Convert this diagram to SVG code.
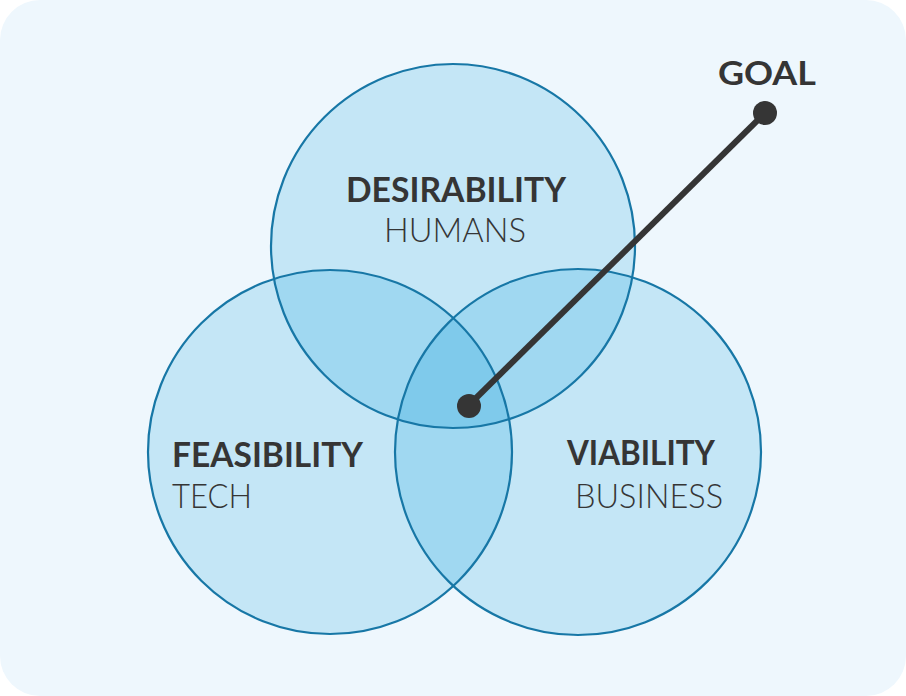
<svg xmlns="http://www.w3.org/2000/svg" width="906" height="696" viewBox="0 0 906 696">
  <defs>
    <clipPath id="clip-top"><circle cx="453" cy="246" r="182"/></clipPath>
    <clipPath id="clip-left"><circle cx="330" cy="452" r="182"/></clipPath>
    <clipPath id="clip-right"><circle cx="578" cy="452" r="183"/></clipPath>
  </defs>
  <style>
    .one { fill: #c4e6f6; }
    .two { fill: #a0d8f1; }
    .three { fill: #7fcaeb; }
    .ring { fill: none; stroke: #1777a6; stroke-width: 2.2; }
    .title { font-family: "Lato", "Liberation Sans", sans-serif; font-weight: 700; fill: #353535; }
    .sub { font-family: "Lato", "Liberation Sans", sans-serif; font-weight: 300; fill: #353535; }
    .pin { fill: #353535; }
  </style>
  <rect x="0" y="0" width="906" height="696" fill="#ffffff"/>
  <rect x="0" y="0" width="906" height="696" rx="40" fill="#eef7fd"/>

  <!-- circle fills and their overlaps -->
  <g id="fills">
    <circle class="one" cx="453" cy="246" r="182"/>
    <circle class="one" cx="330" cy="452" r="182"/>
    <circle class="one" cx="578" cy="452" r="183"/>
    <g clip-path="url(#clip-top)">
      <circle class="two" cx="330" cy="452" r="182"/>
      <circle class="two" cx="578" cy="452" r="183"/>
    </g>
    <g clip-path="url(#clip-left)">
      <circle class="two" cx="578" cy="452" r="183"/>
    </g>
    <g clip-path="url(#clip-top)">
      <g clip-path="url(#clip-left)">
        <circle class="three" cx="578" cy="452" r="183"/>
      </g>
    </g>
  </g>

  <g id="desirability">
    <circle class="ring" cx="453" cy="246" r="182"/>
    <text class="title" x="456" y="202" font-size="35" text-anchor="middle" textLength="220" lengthAdjust="spacingAndGlyphs">DESIRABILITY</text>
    <text class="sub" x="455" y="242" font-size="33" text-anchor="middle" textLength="142" lengthAdjust="spacingAndGlyphs">HUMANS</text>
  </g>
  <g id="feasibility">
    <circle class="ring" cx="330" cy="452" r="182"/>
    <text class="title" x="172" y="467" font-size="35" textLength="191" lengthAdjust="spacingAndGlyphs">FEASIBILITY</text>
    <text class="sub" x="172" y="508" font-size="33" textLength="80" lengthAdjust="spacingAndGlyphs">TECH</text>
  </g>
  <g id="viability">
    <circle class="ring" cx="578" cy="452" r="183"/>
    <text class="title" x="567" y="465" font-size="35" textLength="148" lengthAdjust="spacingAndGlyphs">VIABILITY</text>
    <text class="sub" x="575" y="508" font-size="33" textLength="148" lengthAdjust="spacingAndGlyphs">BUSINESS</text>
  </g>

  <g id="connectors">
    <line x1="469" y1="405" x2="765" y2="113" stroke="#353535" stroke-width="6"/>
  </g>
  <g id="center-pin">
    <circle class="pin" cx="469" cy="406" r="12"/>
  </g>
  <g id="goal">
    <circle class="pin" cx="765" cy="113" r="12"/>
    <text class="title" x="767" y="85" font-size="32" text-anchor="middle" textLength="98" lengthAdjust="spacingAndGlyphs">GOAL</text>
  </g>
</svg>
